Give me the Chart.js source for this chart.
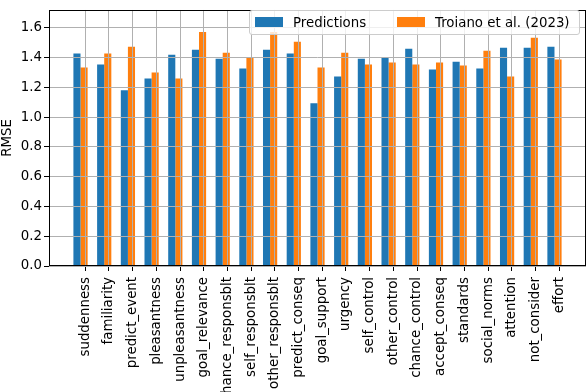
<!DOCTYPE html>
<html lang="en">
<head>
<meta charset="UTF-8">
<title>RMSE per appraisal</title>
<style>
    body { margin: 0; background: #ffffff; }
    #wrap { position: relative; width: 588px; height: 392px; }
    #legend {
        position: absolute;
        left: 249px; top: 10px;
        width: 329px; height: 23px;
        border: 1px solid #cccccc;
        border-radius: 3px;
        background: rgba(255, 255, 255, 0.8);
        font-family: 'DejaVu Sans', sans-serif;
        font-size: 13.33px;
        color: #000;
    }
    #legend .item { position: absolute; top: 0; height: 23px; line-height: 23px; white-space: nowrap; }
    #legend .box { position: absolute; top: 6px; width: 28px; height: 10px; }
</style>
</head>
<body>
<div id="wrap">
    <canvas id="chartCanvas" width="588" height="392"></canvas>
    <div id="legend"></div>
</div>

<script src="https://cdn.jsdelivr.net/npm/chart.js@4.4.0/dist/chart.umd.min.js"></script>
<script>
    const categories = ['suddenness', 'familiarity', 'predict_event', 'pleasantness', 'unpleasantness',
        'goal_relevance', 'chance_responsblt', 'self_responsblt', 'other_responsblt', 'predict_conseq',
        'goal_support', 'urgency', 'self_control', 'other_control', 'chance_control', 'accept_conseq',
        'standards', 'social_norms', 'attention', 'not_consider', 'effort'];

    const predictions = [1.427, 1.353, 1.18, 1.26, 1.42, 1.453, 1.393, 1.327, 1.453, 1.427,
        1.093, 1.273, 1.393, 1.40, 1.46, 1.32, 1.373, 1.327, 1.467, 1.467, 1.473];

    const troiano = [1.333, 1.427, 1.473, 1.30, 1.26, 1.573, 1.433, 1.402, 1.573, 1.507,
        1.333, 1.433, 1.353, 1.367, 1.353, 1.367, 1.347, 1.447, 1.273, 1.533, 1.387];

    const seriesNames = ['Predictions', 'Troiano et al. (2023)'];
    const seriesColors = ['#1f77b4', '#ff7f0e'];
    const yTicks = [0, 0.2, 0.4, 0.6, 0.8, 1.0, 1.2, 1.4, 1.6];

    const font = { family: "'DejaVu Sans', sans-serif", size: 13.33 };

    // frame around the plot area (matplotlib spines)
    const framePlugin = {
        id: 'frame',
        afterDraw(chart) {
            const a = chart.chartArea, ctx = chart.ctx;
            ctx.save();
            ctx.strokeStyle = '#000';
            ctx.lineWidth = 1;
            ctx.strokeRect(Math.round(a.left) + 0.5, Math.round(a.top) + 0.5,
                Math.round(a.right - a.left) - 1, Math.round(a.bottom - a.top) - 1);
            ctx.restore();
        }
    };

    const toPoints = vals => vals.map((v, i) => ({ x: i - 0.2, y: v }));

    const ctx = document.getElementById('chartCanvas').getContext('2d');
    const chart = new Chart(ctx, {
        type: 'bar',
        data: {
            datasets: [
                { label: seriesNames[0], data: toPoints(predictions), backgroundColor: seriesColors[0] },
                { label: seriesNames[1], data: toPoints(troiano), backgroundColor: seriesColors[1] }
            ]
        },
        options: {
            responsive: false,
            animation: false,
            categoryPercentage: 0.6,
            barPercentage: 1.0,
            layout: { padding: { left: 0, right: 2, top: 8, bottom: 0 } },
            plugins: { legend: { display: false }, tooltip: { enabled: false } },
            scales: {
                x: {
                    type: 'linear',
                    offset: false,
                    min: -1.53,
                    max: 21.13,
                    afterBuildTicks: s => { s.ticks = categories.map((_, i) => ({ value: i })); },
                    afterFit: s => { s.height = 126; },
                    grid: { offset: false, color: '#b0b0b0', lineWidth: 1, z: 1, tickColor: '#000', tickLength: 5 },
                    border: { display: false },
                    ticks: {
                        autoSkip: false,
                        maxRotation: 90,
                        minRotation: 90,
                        padding: 6,
                        color: '#000',
                        font: font,
                        callback: v => categories[v]
                    }
                },
                y: {
                    min: 0,
                    max: 1.72,
                    afterBuildTicks: s => { s.ticks = yTicks.map(v => ({ value: v })); },
                    afterFit: s => { s.width = 49; },
                    grid: { color: '#b0b0b0', lineWidth: 1, z: 1, tickColor: '#000', tickLength: 5 },
                    border: { display: false },
                    title: { display: true, text: 'RMSE', color: '#000', font: font, padding: 0 },
                    ticks: {
                        padding: 2,
                        color: '#000',
                        font: font,
                        callback: v => v.toFixed(1)
                    }
                }
            }
        },
        plugins: [framePlugin]
    });

    // legend drawn inside the plot area, like matplotlib's
    const legend = document.getElementById('legend');
    const itemX = [[5, 43], [147, 185]];
    chart.data.datasets.forEach((ds, i) => {
        const box = document.createElement('div');
        box.className = 'box';
        box.style.left = itemX[i][0] + 'px';
        box.style.background = ds.backgroundColor;
        const txt = document.createElement('div');
        txt.className = 'item';
        txt.style.left = itemX[i][1] + 'px';
        txt.textContent = ds.label;
        legend.appendChild(box);
        legend.appendChild(txt);
    });
</script>
</body>
</html>
